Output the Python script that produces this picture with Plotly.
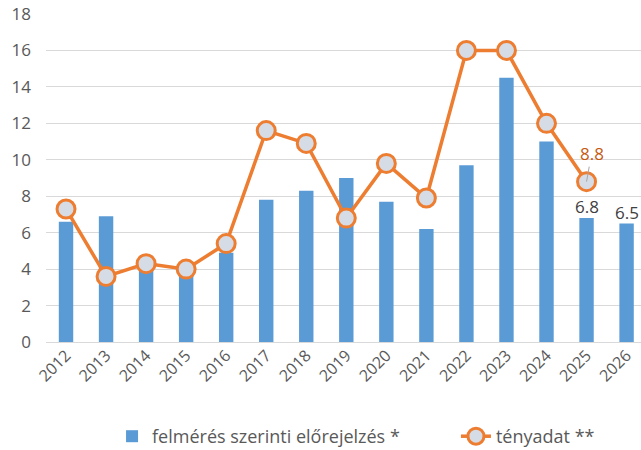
import plotly.graph_objects as go

years = [str(y) for y in range(2012, 2027)]
forecast = [6.6, 6.9, 4.1, 3.8, 4.9, 7.8, 8.3, 9.0, 7.7, 6.2, 9.7, 14.5, 11.0, 6.8, 6.5]
actual_years = years[:14]
actual = [7.3, 3.6, 4.3, 4.0, 5.4, 11.6, 10.9, 6.8, 9.8, 7.9, 16.0, 16.0, 12.0, 8.8]
y_ticks = list(range(0, 19, 2))

BLUE = "#5B9BD5"
ORANGE = "#ED7D31"
FONT = "Open Sans"

fig = go.Figure()
fig.add_trace(go.Bar(
    x=years, y=forecast, name="felmérés szerinti előrejelzés *",
    marker=dict(color=BLUE, line=dict(width=0)), width=0.36, legend="legend",
))
fig.add_trace(go.Scatter(
    x=actual_years, y=actual, name="tényadat **", mode="lines+markers",
    line=dict(color=ORANGE, width=3.5),
    marker=dict(size=18, color="#D6DCE5", line=dict(color=ORANGE, width=3)),
    legend="legend2",
))

# value labels on the last two forecast bars (category index positions)
for i in (len(years) - 2, len(years) - 1):
    fig.add_annotation(x=i, y=forecast[i], text=f"{forecast[i]}", showarrow=False,
                       yanchor="bottom", yshift=-2,
                       font=dict(size=17, color="#404040", family=FONT))

# label for the latest actual value with a thin leader line
j = len(actual) - 1
fig.add_annotation(x=j, y=actual[j], text=f"{actual[j]}",
                   showarrow=True, arrowhead=0, arrowwidth=1, arrowcolor="#A6A6A6",
                   ax=5, ay=-28, standoff=0,
                   font=dict(size=17, color="#C55A11", family=FONT))

legend_style = dict(orientation="h", xanchor="left", yref="container", y=0.03,
                    yanchor="middle", itemwidth=30,
                    font=dict(size=18, color="#595959", family=FONT))

fig.update_layout(
    width=641, height=450,
    margin=dict(l=46, r=0, t=14, b=108),
    paper_bgcolor="white", plot_bgcolor="white",
    font=dict(family=FONT, color="#595959", size=16),
    bargap=0.64,
    showlegend=True,
    legend=dict(x=0.111, **legend_style),
    legend2=dict(x=0.689, **legend_style),
    xaxis=dict(type="category", range=[-0.5, 14.36], tickangle=-45,
               tickfont=dict(size=16, color="#595959"), showgrid=False,
               showline=False, ticks="", automargin=False),
    yaxis=dict(range=[0, 18], tickvals=y_ticks, showgrid=True, gridcolor="#D9D9D9",
               gridwidth=1, zeroline=True, zerolinecolor="#D9D9D9", zerolinewidth=1,
               tickfont=dict(size=17, color="#595959"), ticklabelstandoff=14,
               automargin=False),
)

fig.write_html("out.html")
